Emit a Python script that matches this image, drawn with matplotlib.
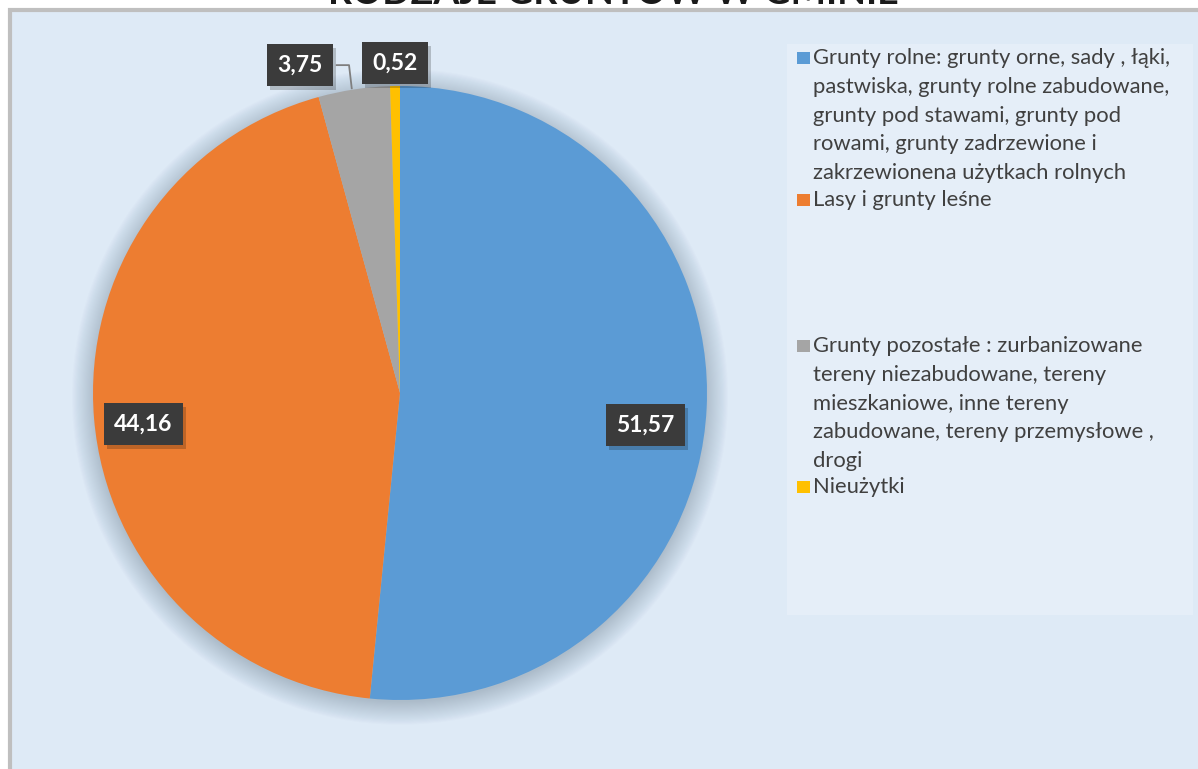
import numpy as np
import matplotlib
matplotlib.use("Agg")
import matplotlib.pyplot as plt
import matplotlib.patheffects as pe
from matplotlib.patches import Rectangle, Circle

plt.rcParams['font.family'] = ['Lato', 'DejaVu Sans']

# ---- data ----
categories = [
    "Grunty rolne: grunty orne, sady , łąki,\npastwiska, grunty rolne zabudowane,\ngrunty pod stawami, grunty pod\nrowami, grunty zadrzewione i\nzakrzewionena użytkach rolnych",
    "Lasy i grunty leśne",
    "Grunty pozostałe : zurbanizowane\ntereny niezabudowane, tereny\nmieszkaniowe, inne tereny\nzabudowane, tereny przemysłowe ,\ndrogi",
    "Nieużytki",
]
values = [51.57, 44.16, 3.75, 0.52]
value_labels = ["51,57", "44,16", "3,75", "0,52"]
colors = ["#5B9BD5", "#ED7D31", "#A5A5A5", "#FFC000"]
title = "RODZAJE GRUNTÓW W GMINIE"

W, H = 1198, 769
fig = plt.figure(figsize=(W / 100, H / 100), dpi=100)
fig.patch.set_facecolor("white")

def fx(px):
    return px / W

def fy(py):
    return 1 - py / H

# chart area background with grey frame (top & left visible)
bg = Rectangle((fx(10), -0.2), 1.2, fy(10) + 0.2, transform=fig.transFigure,
               facecolor="#DEEAF6", edgecolor="#BFBFBF", linewidth=3, zorder=-10)
fig.patches.append(bg)

# title (mostly cut off at top)
fig.text(0.512, fy(4), title, ha="center", va="baseline", fontsize=27,
         fontweight="bold", color="#1a1a1a", zorder=-20)

# legend box
leg = Rectangle((fx(787), fy(615)), fx(1193) - fx(787), fy(44) - fy(615),
                transform=fig.transFigure, facecolor="#E5EEF8", edgecolor="none", zorder=-5)
fig.patches.append(leg)

# pie axes
cx, cy, r = 400, 393, 307
ax = fig.add_axes([fx(cx - r), fy(cy + r), 2 * r / W, 2 * r / H])
ax.set_facecolor("none")
ax.patch.set_alpha(0)

# soft glow shadow around the pie
for k in range(22):
    c = Circle((0, -0.012), 0.995 + 0.0035 * k, facecolor="#4f6580",
               edgecolor="none", alpha=0.016, zorder=0, clip_on=False)
    ax.add_patch(c)

wedges, _ = ax.pie(values, colors=colors, startangle=90, counterclock=False,
                   radius=1.0, wedgeprops=dict(linewidth=0, zorder=2))
ax.set_xlim(-1, 1)
ax.set_ylim(-1, 1)
ax.set_aspect("auto")
ax.axis("off")

box = dict(boxstyle="square,pad=0.45", facecolor="#3B3B3B", edgecolor="none")
txt_kw = dict(color="white", fontsize=16.5, fontweight="bold", ha="center", va="center",
              zorder=5)

def label(x, y, s):
    t = ax.text(x, y, s, bbox=box, clip_on=False, **txt_kw)
    t.get_bbox_patch().set_path_effects(
        [pe.SimplePatchShadow(offset=(2.5, -3), shadow_rgbFace="black", alpha=0.2), pe.Normal()])

# compute mid angles
cum = np.cumsum([0] + values)
total = sum(values)
mids = [90 - 360 * (cum[i] + values[i] / 2) / total for i in range(len(values))]

# inside labels
for i, rad in [(0, 0.80), (1, 0.84)]:
    a = np.deg2rad(mids[i])
    dy = -0.065 if i == 0 else -0.03
    label(rad * np.cos(a), rad * np.sin(a) + dy, value_labels[i])

# gray slice: outside label with leader
lx, ly = -0.326, 1.068
label(lx, ly, value_labels[2])
tip = np.deg2rad(99)
ax.plot([lx + 0.12, lx + 0.16, np.cos(tip) * 1.005], [ly, ly, np.sin(tip) * 1.005],
        color="#7F7F7F", lw=1.3, zorder=4, clip_on=False)

# yellow slice label
label(-0.017, 1.075, value_labels[3])

# legend entries
leg_y = [58, 200, 346, 487]
for cat, col, y in zip(categories, colors, leg_y):
    fig.patches.append(Rectangle((fx(797), fy(y + 6)), fx(810) - fx(797), fy(y - 6) - fy(y + 6),
                                 transform=fig.transFigure, facecolor=col, edgecolor="none", zorder=2))
    fig.text(fx(813), fy(y - 10), cat, ha="left", va="top", fontsize=15.8,
             color="#404040", linespacing=1.55)

fig.savefig("out.png", dpi=100)
